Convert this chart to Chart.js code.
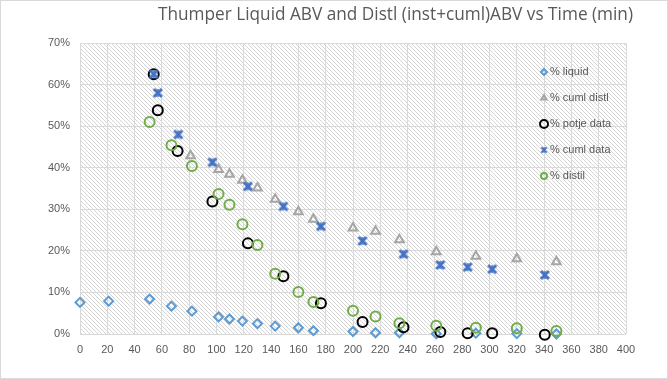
<!DOCTYPE html>
<html lang="en">
<head>
<meta charset="UTF-8">
<title>Thumper Liquid ABV</title>
<style>
  html, body { margin: 0; padding: 0; background: #fff; }
  #wrap { width: 668px; height: 379px; position: relative; }
</style>
</head>
<body>
<div id="wrap"><canvas id="myChart" width="668" height="379"></canvas></div>
<script src="https://cdn.jsdelivr.net/npm/chart.js"></script>
<script>
// time (min) and ABV (%) per series
const liquidX = [0, 21, 51, 67, 82, 101.5, 109.5, 119, 130, 143, 160, 171, 200, 216.5, 234, 261, 290, 320, 349];
const liquidY = [7.6, 7.9, 8.4, 6.7, 5.5, 4.1, 3.6, 3.1, 2.5, 1.9, 1.5, 0.8, 0.6, 0.3, 0.3, 0.05, 0.2, 0.1, 0.0];

const cumlDistlX = [81, 101.5, 109.5, 119, 130, 143, 160, 171, 200, 216.5, 234, 261, 290, 320, 349];
const cumlDistlY = [42.9, 39.6, 38.4, 37.0, 35.1, 32.4, 29.4, 27.6, 25.5, 24.7, 22.7, 19.8, 18.7, 18.1, 17.4];

const potjeX = [54, 57, 71.5, 97, 123, 149, 176.5, 207, 237, 264, 284, 302, 340.5];
const potjeY = [62.5, 53.8, 44.0, 31.9, 21.8, 13.9, 7.4, 2.9, 1.6, 0.5, 0.2, 0.2, -0.2];

const cumlDataX = [54, 57, 72, 97, 123, 149, 176.5, 207, 237, 264, 284, 302, 340.5];
const cumlDataY = [62.5, 58.0, 48.0, 41.3, 35.5, 30.7, 25.9, 22.4, 19.2, 16.6, 16.1, 15.6, 14.2];

const distilX = [51, 67, 82, 101.5, 109.5, 119, 130, 143, 160, 171, 200, 216.5, 234, 261, 290, 320, 349];
const distilY = [51.0, 45.4, 40.4, 33.7, 31.1, 26.4, 21.4, 14.5, 10.1, 7.7, 5.6, 4.2, 2.6, 2.0, 1.5, 1.4, 0.7];

const titleText = 'Thumper Liquid ABV and Distl (inst+cuml)ABV vs Time (min)';

function pts(xs, ys) {
    return xs.map((x, i) => ({ x: x, y: ys[i] / 100 }));
}

// excel-ish star marker: thick X plus a thin vertical stroke
function starImg(size, color) {
    const c = document.createElement('canvas');
    c.width = size; c.height = size;
    const g = c.getContext('2d');
    const m = 2, e = size - 2;
    g.strokeStyle = color;
    g.lineCap = 'butt';
    g.lineWidth = 3;
    g.beginPath();
    g.moveTo(m, m); g.lineTo(e, e);
    g.moveTo(e, m); g.lineTo(m, e);
    g.stroke();
    g.lineWidth = 1.5;
    g.beginPath();
    g.moveTo(size / 2, m); g.lineTo(size / 2, e);
    g.stroke();
    return c;
}

// later series are drawn on top, like the original
function serie(idx, label, xs, ys, style, color, r, bw) {
    return {
        label: label,
        data: pts(xs, ys),
        order: 10 - idx,
        showLine: false,
        pointStyle: style,
        pointRadius: r,
        pointHoverRadius: r,
        borderColor: color,
        backgroundColor: 'rgba(0,0,0,0)',
        pointBorderWidth: bw,
        borderWidth: bw,
        clip: false
    };
}

const datasets = [
    serie(0, '% liquid', liquidX, liquidY, 'rectRot', '#5b9bd5', 4.5, 2),
    serie(1, '% cuml distl', cumlDistlX, cumlDistlY, 'triangle', '#a5a5a5', 5, 2),
    serie(2, '% potje data', potjeX, potjeY, 'circle', '#000000', 5, 2),
    serie(3, '% cuml data', cumlDataX, cumlDataY, starImg(12, '#4472c4'), '#4472c4', 5, 2),
    serie(4, '% distil', distilX, distilY, 'circle', '#70ad47', 5, 2)
];

// diagonal hatch behind the plot area
function hatch(ctx) {
    const c = document.createElement('canvas');
    c.width = 4; c.height = 4;
    const g = c.getContext('2d');
    g.strokeStyle = '#d4d4d4';
    g.lineWidth = 1;
    g.beginPath();
    g.moveTo(0, 0); g.lineTo(4, 4);
    g.moveTo(-1, 3); g.lineTo(1, 5);
    g.moveTo(3, -1); g.lineTo(5, 1);
    g.stroke();
    return ctx.createPattern(c, 'repeat');
}

const decor = {
    id: 'decor',
    beforeDraw(chart) {
        const ctx = chart.ctx;
        const a = chart.chartArea;
        ctx.save();
        ctx.fillStyle = '#fff';
        ctx.fillRect(0, 0, chart.width, chart.height);
        ctx.fillStyle = hatch(ctx);
        ctx.fillRect(a.left, a.top, a.right - a.left, a.bottom - a.top);
        ctx.restore();
    },
    afterDraw(chart) {
        const ctx = chart.ctx;
        ctx.save();
        // outer frame
        ctx.strokeStyle = '#d9d9d9';
        ctx.lineWidth = 1;
        ctx.strokeRect(0.5, 0.5, chart.width - 1, chart.height - 1);
        // title
        ctx.fillStyle = '#595959';
        ctx.font = '18px "Open Sans"';
        ctx.textBaseline = 'alphabetic';
        ctx.textAlign = 'left';
        const w = ctx.measureText(titleText).width;
        ctx.save();
        ctx.translate(158, 20);
        ctx.scale(475 / w, 1);
        ctx.fillText(titleText, 0, 0);
        ctx.restore();
        // legend inside the plot area
        ctx.font = '11px "Liberation Sans"';
        ctx.textBaseline = 'middle';
        chart.data.datasets.forEach((ds, i) => {
            const y = 72 + i * 26;
            const x = 544;
            ctx.strokeStyle = ds.borderColor;
            ctx.fillStyle = ds.backgroundColor;
            ctx.lineWidth = ds.pointBorderWidth;
            if (typeof ds.pointStyle === 'string') {
                Chart.helpers.drawPoint(ctx, {
                    pointStyle: ds.pointStyle,
                    radius: i === 2 ? 4 : 3,
                    borderWidth: ds.pointBorderWidth,
                    rotation: 0
                }, x, y);
            } else {
                ctx.drawImage(ds.pointStyle, x - 4, y - 4, 8, 8);
            }
            ctx.fillStyle = '#595959';
            ctx.fillText(ds.label, x + 6, y);
        });
        ctx.restore();
    }
};

new Chart(document.getElementById('myChart'), {
    type: 'scatter',
    data: { datasets: datasets },
    plugins: [decor],
    options: {
        responsive: false,
        animation: false,
        layout: { padding: { top: 43, right: 42, left: 0, bottom: 0 } },
        plugins: {
            legend: { display: false },
            title: { display: false },
            tooltip: { enabled: false }
        },
        scales: {
            x: {
                type: 'linear',
                min: 0,
                max: 400,
                ticks: {
                    stepSize: 20,
                    color: '#595959',
                    font: { family: 'Liberation Sans', size: 11 },
                    maxRotation: 0,
                    padding: 9
                },
                grid: { color: '#d9d9d9', drawTicks: false },
                border: { display: false },
                afterFit(scale) { scale.height = 45; }
            },
            y: {
                min: 0,
                max: 0.7,
                ticks: {
                    stepSize: 0.1,
                    color: '#595959',
                    font: { family: 'Liberation Sans', size: 11 },
                    padding: 10,
                    callback: v => Math.round(v * 100) + '%'
                },
                grid: { color: '#d9d9d9', drawTicks: false },
                border: { display: false },
                afterFit(scale) { scale.width = 80; }
            }
        }
    }
});
</script>
</body>
</html>
